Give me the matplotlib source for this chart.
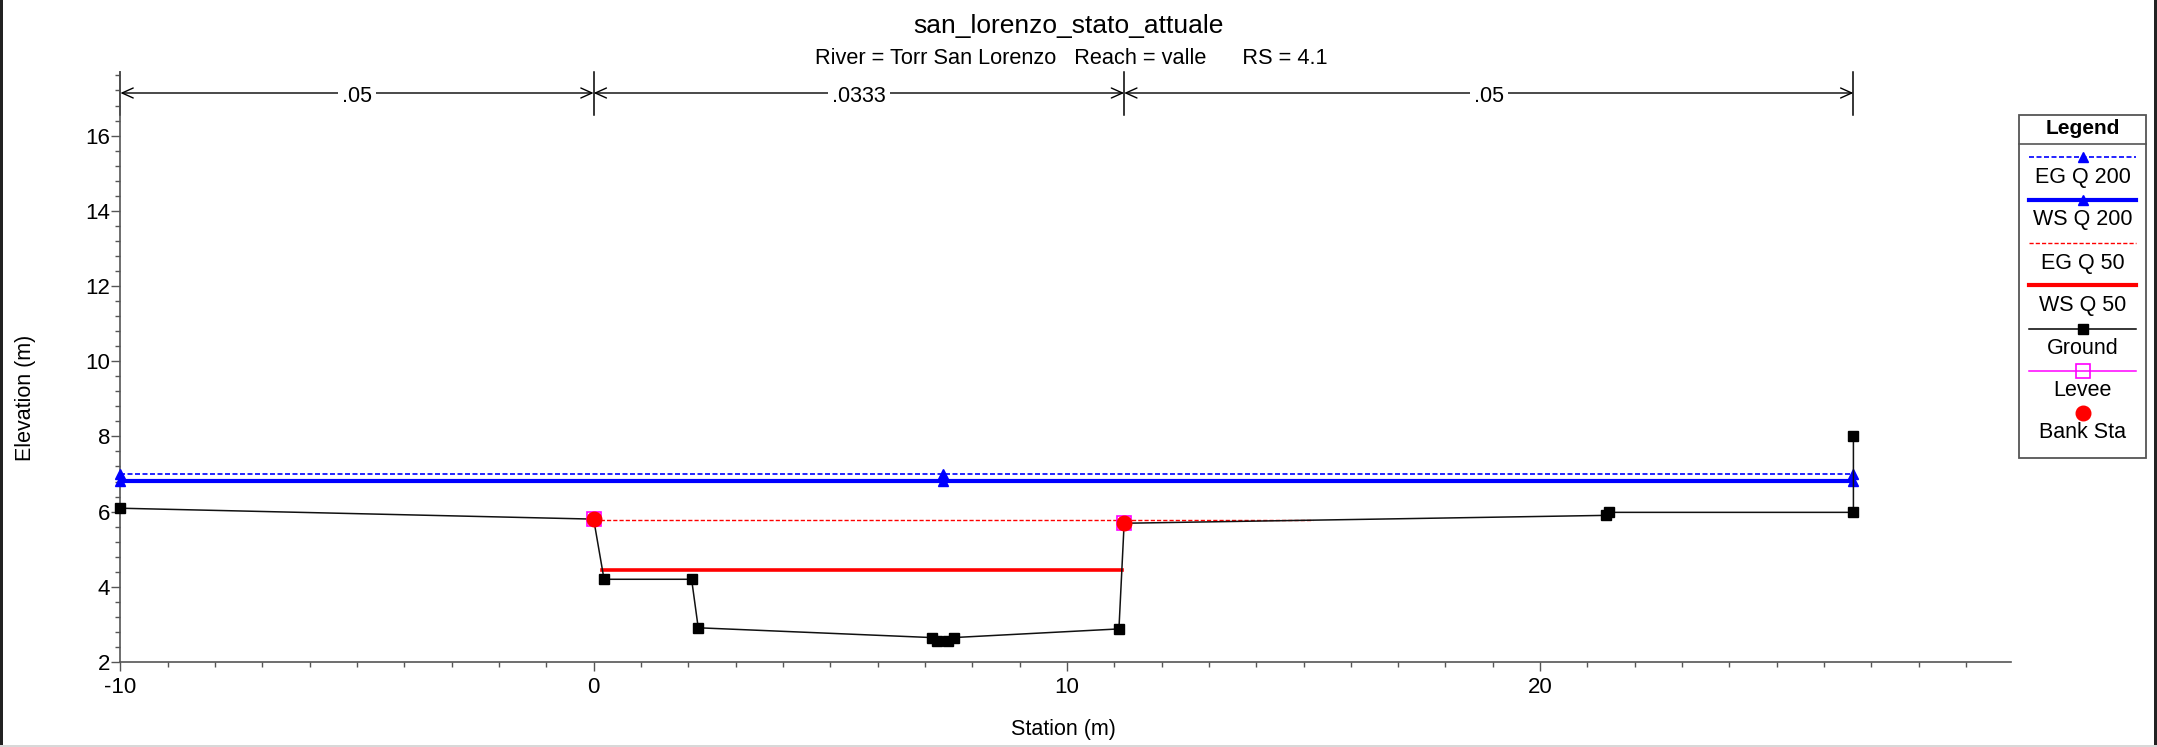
import matplotlib
matplotlib.use('Agg')
import matplotlib.pyplot as plt
from matplotlib.lines import Line2D
from matplotlib.patches import Rectangle
import matplotlib.transforms as mtransforms
from matplotlib.ticker import MultipleLocator

plt.rcParams['font.family'] = ['Liberation Sans', 'DejaVu Sans']
plt.rcParams['axes.unicode_minus'] = False

# ---------------- data ----------------
title = 'san_lorenzo_stato_attuale'
subtitle = 'River = Torr San Lorenzo   Reach = valle      RS = 4.1'
xlabel = 'Station (m)'
ylabel = 'Elevation (m)'

ground_sta = [-10.0, 0.0, 0.22, 2.07, 2.21, 7.14, 7.26, 7.49, 7.61, 11.10, 11.21, 21.40, 21.45, 26.62, 26.62]
ground_elev = [6.09, 5.80, 4.20, 4.20, 2.91, 2.65, 2.57, 2.57, 2.65, 2.88, 5.69, 5.90, 5.98, 5.98, 8.01]

bank_sta = [0.0, 11.21]
bank_elev = [5.80, 5.69]
levee_sta = [0.0, 11.21]
levee_elev = [5.80, 5.69]

eg200 = 7.00
ws200 = 6.81
q200_sta = [-10.0, 26.62]
q200_marker_sta = [-10.0, 7.39, 26.62]

eg50 = 5.77
eg50_sta = [0.0, 15.2]
ws50 = 4.45
ws50_sta = [0.17, 11.16]

n_sta = [-10.0, 0.0, 11.21, 26.62]
n_val = ['.05', '.0333', '.05']

legend_labels = ['EG Q 200', 'WS Q 200', 'EG Q 50', 'WS Q 50', 'Ground', 'Levee', 'Bank Sta']

# ---------------- figure ----------------
W, H = 2157, 747
fig = plt.figure(figsize=(W / 100, H / 100), dpi=100)
fig.patch.set_facecolor('white')

def fx(px):
    return px / W

def fy(py):
    return 1 - py / H

ax_l, ax_r, ax_t, ax_b = 120.4, 2011.0, 72.0, 662.0
ax = fig.add_axes([fx(ax_l), fy(ax_b), fx(ax_r - ax_l), (ax_b - ax_t) / H])
ax.set_xlim(-10, 29.95)
ax.set_ylim(2, 2 + (ax_b - ax_t) / 37.6)

for s in ['top', 'right']:
    ax.spines[s].set_visible(False)
for s in ['left', 'bottom']:
    ax.spines[s].set_color('#555555')
    ax.spines[s].set_linewidth(1.2)

ax.xaxis.set_major_locator(MultipleLocator(10))
ax.xaxis.set_minor_locator(MultipleLocator(1))
ax.yaxis.set_major_locator(MultipleLocator(2))
ax.yaxis.set_minor_locator(MultipleLocator(0.4))
ax.tick_params(axis='both', which='major', direction='out', length=6.5, width=1.0,
               color='#555555', labelsize=16, labelcolor='black')
ax.tick_params(axis='both', which='minor', direction='out', length=3.6, width=1.0, color='#555555')
ax.tick_params(axis='x', which='major', pad=4)
ax.tick_params(axis='y', which='major', pad=1)

ax.set_xlabel(xlabel, fontsize=15.5)
ax.set_ylabel(ylabel, fontsize=15.5)
ax.xaxis.set_label_coords(0.499, -0.097)
ax.yaxis.set_label_coords(-0.0445, 0.447)

# ---------------- profiles ----------------
dash = (0, (3, 1.5))
ax.plot(q200_sta, [eg200] * 2, color='blue', lw=1.2, linestyle=dash, clip_on=False, zorder=3)
ax.plot(q200_sta, [ws200] * 2, color='blue', lw=3.0, clip_on=False, zorder=3)
ax.plot(q200_marker_sta, [eg200] * len(q200_marker_sta), linestyle='none', marker='^',
        color='blue', markersize=6.5, clip_on=False, zorder=4)
ax.plot(q200_marker_sta, [ws200] * len(q200_marker_sta), linestyle='none', marker='^',
        color='blue', markersize=6.5, clip_on=False, zorder=4)

ax.plot(eg50_sta, [eg50] * 2, color='red', lw=1.0, linestyle=dash, clip_on=False, zorder=3)
ax.plot(ws50_sta, [ws50] * 2, color='red', lw=2.6, clip_on=False, zorder=3)

ax.plot(ground_sta, ground_elev, color='#111111', lw=1.1, marker='s', markersize=6.5,
        markerfacecolor='black', markeredgecolor='black', clip_on=False, zorder=5)

ax.plot(levee_sta, levee_elev, linestyle='none', marker='s', markersize=10.5,
        markerfacecolor='none', markeredgecolor='magenta', markeredgewidth=1.2,
        clip_on=False, zorder=6)
ax.plot(bank_sta, bank_elev, linestyle='none', marker='o', markersize=10.5,
        color='red', clip_on=False, zorder=7)

# ---------------- Manning's n dimension lines ----------------
trans = mtransforms.blended_transform_factory(ax.transData, ax.transAxes)
y_dim = (ax_b - 93) / (ax_b - ax_t)
y_ext = (ax_b - 115) / (ax_b - ax_t)
y_lab = (ax_b - 96) / (ax_b - ax_t)
for xs in n_sta:
    ax.plot([xs, xs], [y_ext, 1.0], color='black', lw=1.1, transform=trans, clip_on=False, zorder=2)
for i, lab in enumerate(n_val):
    x0, x1 = n_sta[i], n_sta[i + 1]
    ax.annotate('', xy=(x1, y_dim), xytext=(x0, y_dim), xycoords=trans, textcoords=trans,
                arrowprops=dict(arrowstyle='<->,head_length=0.8,head_width=0.36', lw=1.0,
                                color='black', shrinkA=0, shrinkB=0, mutation_scale=10),
                annotation_clip=False)
    ax.text((x0 + x1) / 2, y_lab, lab, transform=trans, ha='center', va='center', fontsize=15.5,
            bbox=dict(facecolor='white', edgecolor='none', pad=3), zorder=6, clip_on=False)

# ---------------- titles ----------------
fig.text(fx(1068), fy(26), title, ha='center', va='center', fontsize=19)
fig.text(fx(1071), fy(59), subtitle, ha='center', va='center', fontsize=15.7)

# ---------------- legend (drawn manually) ----------------
lg_l, lg_r, lg_t, lg_b = 2019, 2146, 114.7, 458
fig.add_artist(Rectangle((fx(lg_l), fy(lg_b)), fx(lg_r - lg_l), (lg_b - lg_t) / H,
                         transform=fig.transFigure, facecolor='white', edgecolor='#555555', lw=1.3))
fig.add_artist(Line2D([fx(lg_l), fx(lg_r)], [fy(144.3)] * 2, transform=fig.transFigure,
                      color='#555555', lw=1.2))
cx = (lg_l + lg_r) / 2
fig.text(fx(cx), fy(129), 'Legend', ha='center', va='center', fontsize=15, fontweight='bold')

sample_y = [157.3, 200, 243.3, 285, 328.7, 371, 413.3]
text_y = [177, 220, 263.3, 305, 348.3, 390.3, 432.7]
styles = [
    dict(color='blue', lw=1.2, linestyle=dash, marker='^', markersize=6.5),
    dict(color='blue', lw=3.0, marker='^', markersize=6.5),
    dict(color='red', lw=1.0, linestyle=dash, marker=None),
    dict(color='red', lw=3.0, marker=None),
    dict(color='black', lw=1.1, marker='s', markersize=6.5),
    dict(color='magenta', lw=1.1, marker='s', markersize=10, markerfacecolor='none',
         markeredgecolor='magenta', markeredgewidth=1.2),
    dict(color='red', lw=0, linestyle='none', marker='o', markersize=10.5),
]
for lab, sy, ty, st in zip(legend_labels, sample_y, text_y, styles):
    fig.add_artist(Line2D([fx(2029), fx(cx), fx(2136)], [fy(sy)] * 3, transform=fig.transFigure,
                          markevery=[1], **st))
    fig.text(fx(cx), fy(ty), lab, ha='center', va='center', fontsize=15.5)

# ---------------- frame border ----------------
fig.add_artist(Rectangle((0, 0), fx(3), 1, transform=fig.transFigure, facecolor='#222222',
                         edgecolor='none'))
fig.add_artist(Rectangle((fx(2154), 0), fx(3), 1, transform=fig.transFigure, facecolor='#222222',
                         edgecolor='none'))
fig.add_artist(Rectangle((0, 0), 1, 2 / H, transform=fig.transFigure, facecolor='#d8d8d8',
                         edgecolor='none'))

fig.savefig('out.png', dpi=100, facecolor='white')
